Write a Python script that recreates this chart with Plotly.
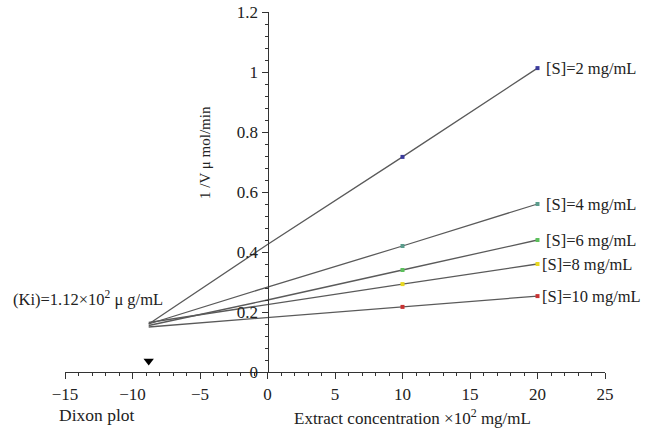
import plotly.graph_objects as go

# Data
x_points = [-8.8, 0, 10, 20]
series_names = ["[S]=2 mg/mL", "[S]=4 mg/mL", "[S]=6 mg/mL", "[S]=8 mg/mL", "[S]=10 mg/mL"]
s2 = [0.160, 0.425, 0.717, 1.013]
s4 = [0.160, 0.283, 0.420, 0.560]
s6 = [0.155, 0.240, 0.340, 0.440]
s8 = [0.165, 0.226, 0.293, 0.360]
s10 = [0.150, 0.181, 0.217, 0.253]
series_values = [s2, s4, s6, s8, s10]
marker_colors = ["#3b3b9c", "#5a9c8c", "#5cc05c", "#e8d820", "#c83232"]
label_shift = [6, 6, 6, 2, 2]

ki_x = -8.8
ki_marker_y = 0.037
x_ticks = [-15, -10, -5, 0, 5, 10, 15, 20, 25]
x_tick_text = ["\u221215", "\u221210", "\u22125", "0", "5", "10", "15", "20", "25"]
y_ticks = [0, 0.2, 0.4, 0.6, 0.8, 1.0, 1.2]
y_tick_text = ["0", "0.2", "0.4", "0.6", "0.8", "1", "1.2"]

FONT = "Liberation Serif, Times New Roman, serif"
fig = go.Figure()

for name, vals, col in zip(series_names, series_values, marker_colors):
    fig.add_trace(go.Scatter(
        x=x_points, y=vals, mode="lines", line=dict(color="#5a5a5a", width=1.3),
        showlegend=False, hoverinfo="skip"))
    fig.add_trace(go.Scatter(
        x=x_points[2:], y=vals[2:], mode="markers",
        marker=dict(color=col, size=4, symbol="square"),
        showlegend=False, name=name))

fig.add_trace(go.Scatter(
    x=[ki_x], y=[ki_marker_y], mode="markers",
    marker=dict(symbol="triangle-down", color="black", size=9),
    showlegend=False))

annotations = []
for name, vals, sh in zip(series_names, series_values, label_shift):
    annotations.append(dict(x=x_points[-1], y=vals[-1], xref="x", yref="y",
                            text=name, showarrow=False, xanchor="left",
                            yanchor="middle", xshift=sh,
                            font=dict(family=FONT, size=16.5, color="#222")))

annotations += [
    dict(x=0.259, y=0.611, xref="paper", yref="paper", text="1 /V \u03bc mol/min",
         textangle=-90, showarrow=False, xanchor="center", yanchor="middle",
         font=dict(family=FONT, size=15, color="#222")),
    dict(x=0.643, y=-0.124, xref="paper", yref="paper",
         text="Extract concentration \u00d710<sup>2</sup> mg/mL",
         xanchor="center", yanchor="middle",
         showarrow=False, font=dict(family=FONT, size=17, color="#222")),
    dict(x=-0.015, y=-0.12, xref="paper", yref="paper", text="Dixon plot",
         xanchor="left", yanchor="middle", showarrow=False,
         font=dict(family=FONT, size=17.5, color="#222")),
    dict(x=0.185, y=0.205, xref="paper", yref="paper",
         text="(Ki)=1.12\u00d710<sup>2</sup> \u03bc g/mL", xanchor="right",
         yanchor="middle", showarrow=False,
         font=dict(family=FONT, size=16.5, color="#222")),
]

fig.update_layout(
    width=650, height=428,
    margin=dict(l=65, r=45, t=12, b=56, autoexpand=False),
    paper_bgcolor="white", plot_bgcolor="white",
    font=dict(family=FONT, size=16, color="#222"),
    annotations=annotations,
    hovermode=False,
    xaxis=dict(range=[-15, 25], tickvals=x_ticks, ticktext=x_tick_text,
               automargin=False, ticklabeloverflow="allow",
               showgrid=False, zeroline=False, showline=True, linecolor="#333",
               linewidth=1.3, ticks="outside", ticklen=6, tickcolor="#333",
               minor=dict(dtick=1, ticks="outside", ticklen=3, tickcolor="#333"),
               tickfont=dict(family=FONT, size=17)),
    yaxis=dict(range=[0, 1.2], tickvals=y_ticks, ticktext=y_tick_text,
               anchor="free", position=0.375, automargin=False,
               ticklabeloverflow="allow",
               showgrid=False, zeroline=False, showline=True, linecolor="#333",
               linewidth=1.3, ticks="outside", ticklen=6, tickcolor="#333",
               minor=dict(dtick=0.04, ticks="outside", ticklen=3, tickcolor="#333"),
               tickfont=dict(family=FONT, size=17)),
)

# Remove the default 8px page margin so the figure fills the window exactly.
fig.write_html("out.html",
               config={"displayModeBar": False, "staticPlot": True},
               post_script="document.body.style.margin='0px';"
                           "document.body.style.overflow='hidden';")
